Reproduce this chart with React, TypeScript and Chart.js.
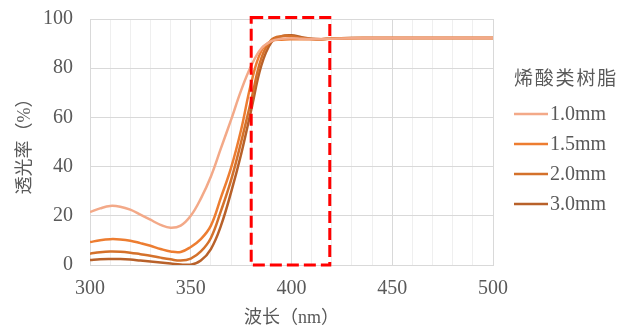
import React, { useEffect, useRef } from 'react';
import { Chart, registerables } from 'chart.js';
Chart.register(...registerables);

const wavelengths = [300, 305, 310, 315, 320, 325, 330, 335, 340, 345, 350, 355, 360, 365, 370, 375, 380, 385, 390, 395, 400, 405, 410, 415, 420, 430, 440, 450, 460, 470, 480, 490, 500];
const t10 = [21.5, 23, 24, 23.7, 22.5, 20.5, 18.4, 16.3, 15.1, 16, 20, 27, 36, 47.5, 59, 71, 81, 88, 91, 92, 92.2, 92, 91.9, 91.9, 92, 92.2, 92.3, 92.3, 92.3, 92.3, 92.3, 92.3, 92.3];
const t15 = [9.3, 10.1, 10.5, 10.4, 9.9, 8.9, 7.8, 6.5, 5.5, 5.3, 7.3, 10.5, 16, 27.5, 39.5, 55, 74, 87, 91, 91.6, 91.8, 91.8, 91.8, 91.8, 92, 92.2, 92.3, 92.3, 92.3, 92.3, 92.3, 92.3, 92.3];
const t20 = [4.6, 5.2, 5.5, 5.4, 5.0, 4.4, 3.8, 3.0, 2.3, 1.8, 2.6, 5.5, 11, 22, 34.5, 50, 67, 84, 91.5, 93, 93, 92.3, 91.9, 91.8, 92.1, 92.3, 92.3, 92.3, 92.3, 92.3, 92.3, 92.3, 92.3];
const t30 = [2.0, 2.3, 2.4, 2.4, 2.2, 1.8, 1.4, 1.0, 0.6, 0.2, 0.1, 1.8, 6.5, 16, 29.5, 45, 63, 81, 90.5, 93, 93.4, 92.6, 92, 91.8, 92.1, 92.3, 92.3, 92.3, 92.3, 92.3, 92.3, 92.3, 92.3];

const seriesLabels = ['1.0mm', '1.5mm', '2.0mm', '3.0mm'];
const seriesValues = [t10, t15, t20, t30];
const seriesColors = ['#F3A988', '#ED7D31', '#D4712B', '#B8612A'];

const xTickLabels = [300, 350, 400, 450, 500];
const yTickLabels = [0, 20, 40, 60, 80, 100];
const legendTitle = '烯酸类树脂';
const xTitle = '波长（nm）';
const yTitle = '透光率（%）';
const boxX = [380, 419];
const boxY = [0, 100.6];

const TEXT = '#595959';
const SERIF = '"Liberation Serif", "Times New Roman", "Noto Sans CJK SC", serif';

export default function App() {
  const ref = useRef<HTMLCanvasElement>(null);
  useEffect(() => {
    document.body.style.margin = '0';
    const canvas = ref.current!;

    const boxPlugin = {
      id: 'box',
      afterDatasetsDraw(chart: any) {
        const { ctx, scales } = chart;
        const x0 = scales.x.getPixelForValue(boxX[0]);
        const x1 = scales.x.getPixelForValue(boxX[1]);
        const y0 = scales.y.getPixelForValue(boxY[1]);
        const y1 = scales.y.getPixelForValue(boxY[0]);
        ctx.save();
        ctx.strokeStyle = '#FF0000';
        ctx.lineWidth = 3;
        ctx.setLineDash([12, 5]);
        ctx.beginPath();
        ctx.moveTo(x0, y0);
        ctx.lineTo(x1, y0);
        ctx.lineTo(x1, y1);
        ctx.lineTo(x0, y1);
        ctx.closePath();
        ctx.stroke();
        ctx.restore();
      },
    };

    const legendPlugin = {
      id: 'customLegend',
      afterDraw(chart: any) {
        const { ctx } = chart;
        ctx.save();
        ctx.fillStyle = TEXT;
        ctx.textBaseline = 'middle';
        ctx.textAlign = 'left';
        ctx.font = '19px "Noto Sans CJK SC", sans-serif';
        const chars = Array.from(legendTitle);
        chars.forEach((c, i) => ctx.fillText(c, 514 + i * 20.8, 77.5));
        ctx.font = '20px ' + SERIF;
        seriesLabels.forEach((lab, i) => {
          const y = 114 + i * 30;
          ctx.strokeStyle = seriesColors[i];
          ctx.lineWidth = 2.5;
          ctx.beginPath();
          ctx.moveTo(514, y);
          ctx.lineTo(548, y);
          ctx.stroke();
          ctx.fillText(lab, 550, y + 1);
        });
        ctx.restore();
      },
    };

    const chart = new Chart(canvas, {
      type: 'line',
      data: {
        datasets: seriesValues.map((vals, i) => ({
          label: seriesLabels[i],
          data: wavelengths.map((x, j) => ({ x, y: vals[j] })),
          borderColor: seriesColors[i],
          backgroundColor: seriesColors[i],
          borderWidth: 2.5,
          pointRadius: 0,
          tension: 0.4,
          fill: false,
        })),
      },
      options: {
        responsive: false,
        animation: false,
        layout: { padding: { top: 19, right: 140, bottom: 0, left: 0 } },
        plugins: { legend: { display: false }, tooltip: { enabled: false } },
        scales: {
          x: {
            type: 'linear',
            min: 300,
            max: 500,
            ticks: {
              stepSize: 10,
              autoSkip: false,
              maxRotation: 0,
              padding: 12,
              color: TEXT,
              font: { family: SERIF, size: 20 },
              callback: (v: any) => (xTickLabels.includes(Number(v)) ? String(v) : ''),
            },
            grid: {
              drawTicks: false,
              lineWidth: 1,
              color: (c: any) => (xTickLabels.includes(c.tick?.value) ? '#D9D9D9' : '#EFEFEF'),
            },
            border: { color: '#D9D9D9' },
            title: {
              display: true,
              text: xTitle,
              color: TEXT,
              font: { family: SERIF, size: 18, lineHeight: 1 },
              padding: { top: 0, bottom: 0 },
            },
            afterFit: (s: any) => { s.height = 62; s.paddingLeft = 0; s.paddingRight = 0; },
          },
          y: {
            min: 0,
            max: 100,
            ticks: {
              stepSize: 20,
              padding: 17,
              color: TEXT,
              font: { family: SERIF, size: 20 },
              callback: (v: any) => (yTickLabels.includes(Number(v)) ? String(v) : ''),
            },
            grid: { drawTicks: false, color: '#D9D9D9', lineWidth: 1 },
            border: { color: '#D9D9D9' },
            title: {
              display: true,
              text: yTitle,
              color: TEXT,
              font: { family: SERIF, size: 18, lineHeight: 1 },
              padding: { top: 16, bottom: 0 },
            },
            afterFit: (s: any) => { s.width = 90; s.paddingTop = 0; s.paddingBottom = 0; },
          },
        },
      } as any,
      plugins: [boxPlugin, legendPlugin],
    });
    return () => chart.destroy();
  }, []);
  return (
    <div style={{ width: 633, height: 327 }}>
      <canvas ref={ref} width={633} height={327} style={{ display: 'block' }} />
    </div>
  );
}
